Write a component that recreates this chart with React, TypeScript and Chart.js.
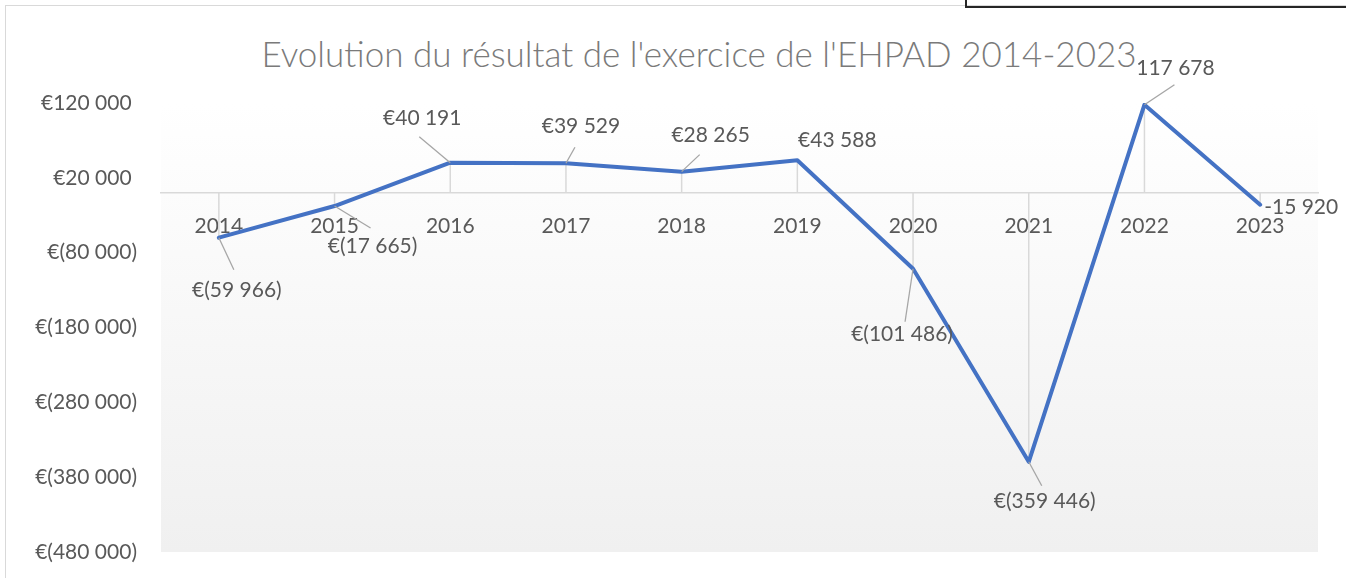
import React, { useEffect, useRef } from "react";
import { Chart, registerables } from "chart.js";

Chart.register(...registerables);

const titleText = "Evolution du résultat de l'exercice de l'EHPAD 2014-2023";
const years = ["2014", "2015", "2016", "2017", "2018", "2019", "2020", "2021", "2022", "2023"];
const results = [-59966, -17665, 40191, 39529, 28265, 43588, -101486, -359446, 117678, -15920];
const dataLabels = [
  "€(59 966)",
  "€(17 665)",
  "€40 191",
  "€39 529",
  "€28 265",
  "€43 588",
  "€(101 486)",
  "€(359 446)",
  "117 678",
  "-15 920",
];
const yTickValues = [-480000, -380000, -280000, -180000, -80000, 20000, 120000];
const yTickLabels = ["€(480 000)", "€(380 000)", "€(280 000)", "€(180 000)", "€(80 000)", "€20 000 ", "€120 000 "];

const FONT = "Lato, 'Open Sans', sans-serif";
const TEXT = "#595959";
const FS = 21;

// label placement relative to each point (layout only): text centre offset, leader end offset
const labelLayout = [
  { dx: 18, dy: 53, lx: 15, ly: 32, align: "center" },
  { dx: 38, dy: 40, lx: 36, ly: 22, align: "center" },
  { dx: -28, dy: -44, lx: -31, ly: -26, align: "center" },
  { dx: 15, dy: -37, lx: 9, ly: -16, align: "center" },
  { dx: 29, dy: -36, lx: 18, ly: -17, align: "center" },
  { dx: 40, dy: -20, lx: 0, ly: 0, align: "center" },
  { dx: -11, dy: 65, lx: -8, ly: 53, align: "center" },
  { dx: 16, dy: 39, lx: 13, ly: 24, align: "center" },
  { dx: 31, dy: -37, lx: 30, ly: -20, align: "center" },
  { dx: 4, dy: 3, lx: 0, ly: 0, align: "left" },
];

const plotBackground = {
  id: "plotBackground",
  beforeDraw(chart: any) {
    const { ctx, chartArea } = chart;
    const g = ctx.createLinearGradient(0, chartArea.top, 0, chartArea.bottom);
    g.addColorStop(0, "#ffffff");
    g.addColorStop(1, "#f0f0f0");
    ctx.save();
    ctx.fillStyle = g;
    ctx.fillRect(chartArea.left, chartArea.top, chartArea.right - chartArea.left, chartArea.bottom - chartArea.top);
    ctx.restore();
  },
};

const dropLines = {
  id: "dropLines",
  beforeDatasetsDraw(chart: any) {
    const { ctx } = chart;
    const meta = chart.getDatasetMeta(0);
    const zero = chart.scales.y.getPixelForValue(0);
    ctx.save();
    ctx.strokeStyle = "#d9d9d9";
    ctx.lineWidth = 1.5;
    meta.data.forEach((pt: any) => {
      ctx.beginPath();
      ctx.moveTo(pt.x, pt.y);
      ctx.lineTo(pt.x, zero);
      ctx.stroke();
    });
    ctx.restore();
  },
};

const pointLabels = {
  id: "pointLabels",
  afterDatasetsDraw(chart: any) {
    const { ctx } = chart;
    const meta = chart.getDatasetMeta(0);
    ctx.save();
    meta.data.forEach((pt: any, i: number) => {
      const l = labelLayout[i];
      if (l.lx !== 0 || l.ly !== 0) {
        ctx.strokeStyle = "#a6a6a6";
        ctx.lineWidth = 1.3;
        ctx.beginPath();
        ctx.moveTo(pt.x, pt.y);
        ctx.lineTo(pt.x + l.lx, pt.y + l.ly);
        ctx.stroke();
      }
      ctx.fillStyle = TEXT;
      ctx.font = `${FS}px ${FONT}`;
      ctx.textAlign = l.align as CanvasTextAlign;
      ctx.textBaseline = "middle";
      ctx.fillText(dataLabels[i], pt.x + l.dx, pt.y + l.dy);
    });
    ctx.restore();
  },
};

export default function App() {
  const ref = useRef<HTMLCanvasElement | null>(null);

  useEffect(() => {
    if (!ref.current) return;
    const chart = new Chart(ref.current, {
      type: "line",
      data: {
        labels: years,
        datasets: [
          {
            data: results,
            borderColor: "#4472C4",
            borderWidth: 4,
            pointRadius: 0,
            tension: 0,
            borderJoinStyle: "round",
            borderCapStyle: "round",
          },
        ],
      },
      options: {
        responsive: false,
        animation: false,
        devicePixelRatio: 1,
        layout: { padding: { left: 0, right: 28, top: 103, bottom: 26 } },
        plugins: {
          legend: { display: false },
          tooltip: { enabled: false },
          title: { display: false },
        },
        scales: {
          x: {
            position: { y: 0 } as any,
            offset: true,
            grid: { display: false, drawTicks: false },
            border: { display: true, color: "#d9d9d9", width: 1.5 },
            ticks: { color: TEXT, font: { family: FONT, size: FS }, padding: 21, maxRotation: 0 },
            afterFit: (scale: any) => {
              scale.height = 0;
            },
          },
          y: {
            min: -480000,
            max: 120000,
            grid: { display: false, drawTicks: false },
            border: { display: false },
            afterBuildTicks: (scale: any) => {
              scale.ticks = yTickValues.map((v) => ({ value: v }));
            },
            afterFit: (scale: any) => {
              scale.width = 161;
              scale.paddingTop = 0;
              scale.paddingBottom = 0;
            },
            ticks: {
              color: TEXT,
              font: { family: FONT, size: FS },
              padding: 24,
              callback: (value: any) => {
                const idx = yTickValues.indexOf(Number(value));
                return idx >= 0 ? yTickLabels[idx] : "";
              },
            },
          },
        },
      },
      plugins: [plotBackground, dropLines, pointLabels],
    });
    return () => chart.destroy();
  }, []);

  return (
    <div style={{ position: "fixed", left: 0, top: 0, width: 1346, height: 578, overflow: "hidden", background: "#fff" }}>
      <div
        style={{
          position: "absolute",
          left: 5,
          top: 5,
          width: 1500,
          height: 700,
          borderLeft: "1px solid #d9d9d9",
          borderTop: "1px solid #d9d9d9",
        }}
      />
      <div
        style={{
          position: "absolute",
          left: 0,
          top: 33,
          width: 1398,
          height: 40,
          lineHeight: "40px",
          textAlign: "center",
          fontFamily: FONT,
          fontSize: 35,
          fontWeight: 300,
          color: "#7a7a7a",
          whiteSpace: "nowrap",
        }}
      >
        {titleText}
      </div>
      <canvas ref={ref} width={1346} height={578} style={{ position: "absolute", left: 0, top: 0, width: 1346, height: 578 }} />
      <div
        style={{
          position: "absolute",
          left: 965,
          top: -5,
          width: 500,
          height: 13,
          border: "2.5px solid #262626",
          boxSizing: "border-box",
        }}
      />
    </div>
  );
}
